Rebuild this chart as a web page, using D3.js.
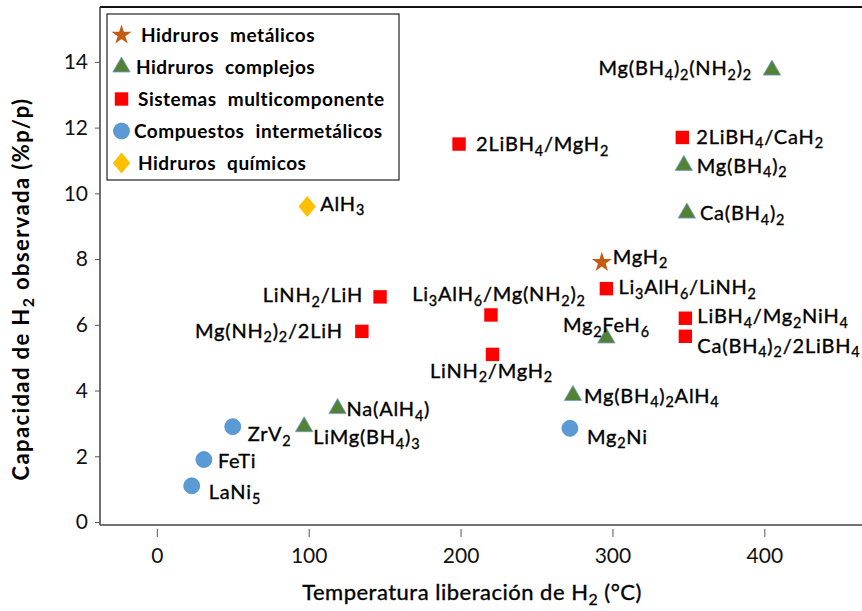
<!DOCTYPE html>
<html><head><meta charset="utf-8">
<script src="https://cdn.jsdelivr.net/npm/d3@7"></script>
<style>body{margin:0;background:#fff}svg{display:block}</style>
</head><body>
<svg id="chart" width="862" height="611"></svg>
<script>
// ---------- DATA ----------
const categories = ["Hidruros metálicos","Hidruros complejos","Sistemas multicomponente","Compuestos intermetálicos","Hidruros químicos"];
const metalicos = [ {name:"MgH2", t:293, c:7.9} ];
const complejos = [
  {name:"Mg(BH4)2(NH2)2", t:405, c:13.75},
  {name:"Mg(BH4)2", t:347, c:10.85},
  {name:"Ca(BH4)2", t:349, c:9.4},
  {name:"Mg2FeH6", t:296, c:5.6},
  {name:"Mg(BH4)2AlH4", t:274, c:3.85},
  {name:"Na(AlH4)", t:119, c:3.45},
  {name:"LiMg(BH4)3", t:97, c:2.9}
];
const multicomponente = [
  {name:"2LiBH4/MgH2", t:199, c:11.5},
  {name:"2LiBH4/CaH2", t:346, c:11.7},
  {name:"LiNH2/LiH", t:147, c:6.85},
  {name:"Mg(NH2)2/2LiH", t:135, c:5.8},
  {name:"Li3AlH6/Mg(NH2)2", t:220, c:6.3},
  {name:"Li3AlH6/LiNH2", t:296, c:7.1},
  {name:"LiNH2/MgH2", t:221, c:5.1},
  {name:"LiBH4/Mg2NiH4", t:348, c:6.2},
  {name:"Ca(BH4)2/2LiBH4", t:348, c:5.65}
];
const intermetalicos = [
  {name:"ZrV2", t:50, c:2.9},
  {name:"FeTi", t:31, c:1.9},
  {name:"LaNi5", t:23, c:1.1},
  {name:"Mg2Ni", t:272, c:2.85}
];
const quimicos = [ {name:"AlH3", t:99, c:9.6} ];
const xTicks = [0,100,200,300,400];
const yTicks = [0,2,4,6,8,10,12,14];
const xTitle = "Temperatura liberación de H2 (°C)";
const yTitle = "Capacidad de H2 observada (%p/p)";

// ---------- LAYOUT (label placement relative to marker) ----------
const labelPlace = {
  "MgH2":[11,-6,"start"], "Mg(BH4)2(NH2)2":[-20,-2,"end"], "Mg(BH4)2":[13,0,"start"],
  "Ca(BH4)2":[13,0,"start"], "Mg2FeH6":[0,-13,"middle"], "Mg(BH4)2AlH4":[11,0,"start"],
  "Na(AlH4)":[9,0,"start"], "LiMg(BH4)3":[9,10,"start"], "2LiBH4/MgH2":[17,0,"start"],
  "2LiBH4/CaH2":[14,-1,"start"], "LiNH2/LiH":[-17,-2,"end"], "Mg(NH2)2/2LiH":[-19,-1,"end"],
  "Li3AlH6/Mg(NH2)2":[8,-21,"middle"], "Li3AlH6/LiNH2":[12,-2,"start"], "LiNH2/MgH2":[-1,16,"middle"],
  "LiBH4/Mg2NiH4":[12,-2,"start"], "Ca(BH4)2/2LiBH4":[12,9,"start"], "ZrV2":[15,7,"start"],
  "FeTi":[14,1,"start"], "LaNi5":[17,6,"start"], "Mg2Ni":[17,8,"start"], "AlH3":[13,-3,"start"]
};

const svg = d3.select("#chart");
const FONT = "Lato, 'Open Sans', sans-serif";
const x = d3.scaleLinear().domain([-37.4, 464.3]).range([100, 862]);
const y = d3.scaleLinear().domain([0, 15.67]).range([522, 7]);

const diamondType = { draw(ctx, size){ const w=Math.sqrt(size)*0.6, h=Math.sqrt(size)*0.72;
  ctx.moveTo(0,-h); ctx.lineTo(w,0); ctx.lineTo(0,h); ctx.lineTo(-w,0); ctx.closePath(); } };

const styles = [
  {type:d3.symbolStar, size:125, fill:"#C55A11", stroke:"none"},
  {type:d3.symbolTriangle, size:130, fill:"#548235", stroke:"#6F9BD1"},
  {type:d3.symbolSquare, size:180, fill:"#FF0000", stroke:"none"},
  {type:d3.symbolCircle, size:200, fill:"#5B9BD5", stroke:"#4F8CC6"},
  {type:diamondType, size:210, fill:"#FFC000", stroke:"none"}
];
const seriesList = [metalicos, complejos, multicomponente, intermetalicos, quimicos];

// frame
svg.append("line").attr("x1",100).attr("x2",862).attr("y1",7).attr("y2",7)
  .attr("stroke","#111").attr("stroke-width",2);
svg.append("line").attr("x1",100).attr("x2",100).attr("y1",7).attr("y2",525)
  .attr("stroke","#222").attr("stroke-width",1.3);
svg.append("line").attr("x1",100).attr("x2",862).attr("y1",525).attr("y2",525)
  .attr("stroke","#444").attr("stroke-width",1.3);

// y axis
const yAx = svg.append("g").attr("transform","translate(100,0)")
  .call(d3.axisLeft(y).tickValues(yTicks).tickSize(5).tickPadding(7).tickFormat(d3.format("d")));
yAx.select(".domain").remove();
yAx.selectAll("line").attr("stroke","#555");
yAx.selectAll("text").attr("font-family",FONT).attr("font-size",21).attr("fill","#111");

// x axis (ticks separated from the axis line)
const xAx = svg.append("g").attr("transform","translate(0,529)")
  .call(d3.axisBottom(x).tickValues(xTicks).tickSize(8).tickPadding(11).tickFormat(d3.format("d")));
xAx.select(".domain").remove();
xAx.selectAll("line").attr("stroke","#555");
xAx.selectAll("text").attr("font-family",FONT).attr("font-size",21).attr("fill","#111");

// rich text with subscripts
function richText(sel, str, fs, shiftFactor){
  const shift = fs*(shiftFactor||0.26);
  const segs = [];
  let prev = "", inSub = false;
  for(let i=0;i<str.length;i++){
    const ch = str[i];
    const isDigit = /[0-9]/.test(ch);
    const sub = isDigit && i>0 && (/[A-Za-z)]/.test(prev) || (inSub && /[0-9]/.test(prev)));
    if(!segs.length || segs[segs.length-1].sub !== sub) segs.push({text:"", sub});
    segs[segs.length-1].text += ch;
    inSub = sub; prev = ch;
  }
  let wasSub = false;
  segs.forEach(s => {
    const ts = sel.append("tspan").text(s.text);
    if(s.sub){ ts.attr("dy", shift).attr("font-size", fs*0.72); }
    else if(wasSub){ ts.attr("dy", -shift); }
    wasSub = s.sub;
  });
}

// points + labels
const LFS = 20;
seriesList.forEach((series, si) => {
  const st = styles[si];
  const g = svg.append("g");
  g.selectAll("path").data(series).join("path")
    .attr("transform", d => `translate(${x(d.t)},${y(d.c)})`)
    .attr("d", d3.symbol().type(st.type).size(st.size))
    .attr("fill", st.fill).attr("stroke", st.stroke).attr("stroke-width", 0.8);
  series.forEach(d => {
    const p = labelPlace[d.name] || [10,0,"start"];
    const t = g.append("text")
      .attr("x", x(d.t)+p[0]).attr("y", y(d.c)+p[1]+LFS*0.36)
      .attr("text-anchor", p[2]).attr("font-family",FONT).attr("font-size",LFS)
      .attr("fill","#000").attr("stroke","#000").attr("stroke-width",0.35)
      .attr("letter-spacing",0.8);
    richText(t, d.name, LFS, 0.24);
  });
});

// legend
const leg = svg.append("g");
leg.append("rect").attr("x",107).attr("y",14).attr("width",292).attr("height",166)
  .attr("fill","#fff").attr("stroke","#222").attr("stroke-width",1.2);
const legTextX = [141,136,138,134,138];
categories.forEach((name,i) => {
  const st = styles[i];
  const cy = 35 + i*32;
  leg.append("path").attr("transform",`translate(121.5,${cy})`)
    .attr("d", d3.symbol().type(st.type).size(st.size))
    .attr("fill", st.fill).attr("stroke", st.stroke).attr("stroke-width",0.8);
  leg.append("text").attr("x", legTextX[i]).attr("y", cy+7)
    .attr("font-family",FONT).attr("font-size",19).attr("font-weight","bold")
    .attr("letter-spacing",0.5).attr("word-spacing",6).attr("fill","#000").text(name);
});

// axis titles
const xt = svg.append("text").attr("x",472).attr("y",600).attr("text-anchor","middle")
  .attr("font-family",FONT).attr("font-size",22).attr("fill","#000")
  .attr("stroke","#000").attr("stroke-width",0.35).attr("letter-spacing",0.5);
richText(xt, xTitle, 22, 0.22);
const yt = svg.append("text").attr("transform","translate(29,289) rotate(-90)").attr("text-anchor","middle")
  .attr("font-family",FONT).attr("font-size",22).attr("font-weight","bold").attr("fill","#000")
  .attr("letter-spacing",1.4);
richText(yt, yTitle, 22, 0.22);
</script>
</body></html>
